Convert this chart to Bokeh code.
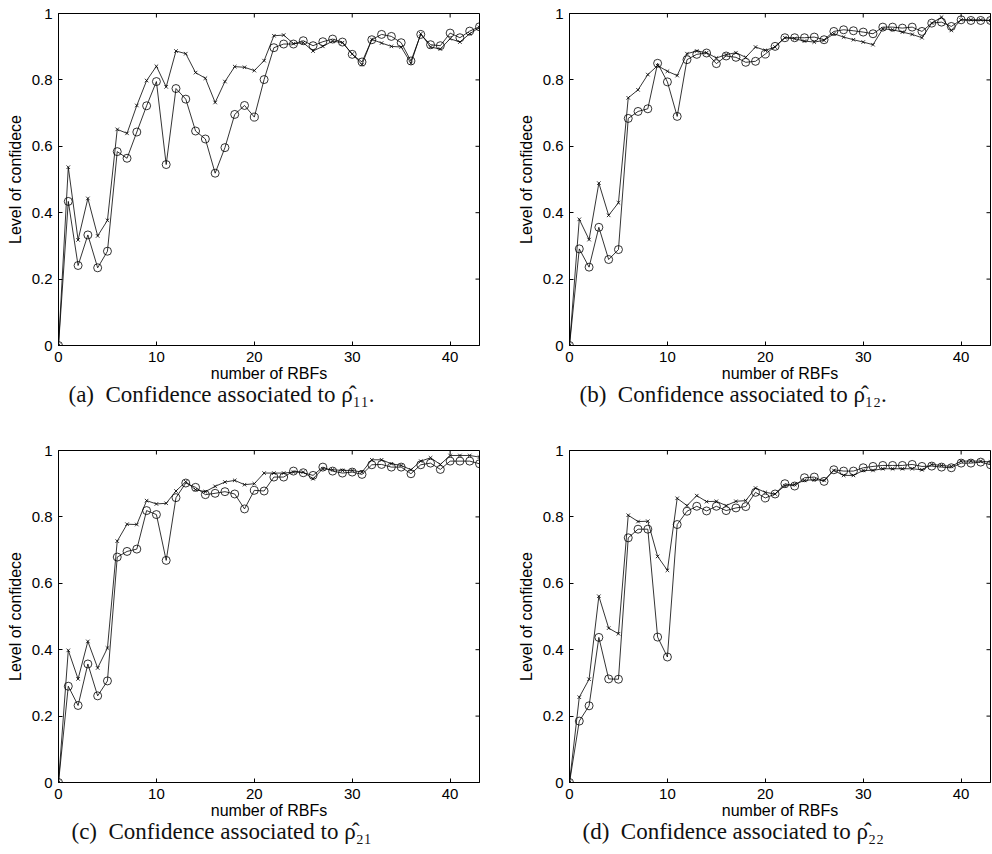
import math
from bokeh.plotting import figure
from bokeh.layouts import gridplot
from bokeh.models import Range1d, FixedTicker, Title
from bokeh.embed import file_html
from bokeh.resources import INLINE

n_rbf = list(range(44))
x_ticks = [0, 10, 20, 30, 40]
y_ticks = [0, 0.2, 0.4, 0.6, 0.8, 1]
x_max = 43
y_max = 1

a_circle = [0, 0.434, 0.241, 0.333, 0.234, 0.284, 0.584, 0.564, 0.643, 0.722, 0.795,
            0.545, 0.774, 0.742, 0.646, 0.622, 0.519, 0.596, 0.696, 0.723, 0.688,
            0.801, 0.897, 0.908, 0.908, 0.918, 0.903, 0.915, 0.923, 0.914, 0.877,
            0.854, 0.921, 0.937, 0.931, 0.912, 0.857, 0.937, 0.906, 0.903, 0.941,
            0.927, 0.947, 0.960]
a_cross = [0, 0.537, 0.318, 0.443, 0.330, 0.377, 0.651, 0.639, 0.723, 0.798, 0.841,
           0.779, 0.887, 0.879, 0.822, 0.805, 0.732, 0.795, 0.840, 0.838, 0.828,
           0.858, 0.933, 0.935, 0.909, 0.912, 0.887, 0.901, 0.917, 0.912, 0.878,
           0.846, 0.922, 0.911, 0.901, 0.899, 0.850, 0.939, 0.899, 0.893, 0.924,
           0.914, 0.939, 0.958]
b_circle = [0, 0.291, 0.236, 0.356, 0.259, 0.289, 0.684, 0.705, 0.713, 0.850, 0.794,
            0.690, 0.861, 0.877, 0.881, 0.849, 0.872, 0.868, 0.853, 0.856, 0.878,
            0.901, 0.927, 0.927, 0.927, 0.929, 0.921, 0.946, 0.951, 0.948, 0.944,
            0.939, 0.959, 0.959, 0.956, 0.959, 0.946, 0.971, 0.974, 0.961, 0.981,
            0.979, 0.979, 0.979]
b_cross = [0, 0.380, 0.319, 0.489, 0.392, 0.430, 0.746, 0.770, 0.816, 0.843, 0.826,
           0.813, 0.879, 0.887, 0.882, 0.866, 0.876, 0.882, 0.868, 0.899, 0.889,
           0.899, 0.927, 0.924, 0.917, 0.914, 0.919, 0.939, 0.929, 0.921, 0.914,
           0.906, 0.954, 0.951, 0.944, 0.937, 0.927, 0.971, 0.989, 0.949, 0.981,
           0.981, 0.981, 0.979]
c_circle = [0, 0.290, 0.232, 0.357, 0.261, 0.306, 0.679, 0.696, 0.703, 0.819, 0.807,
            0.669, 0.858, 0.902, 0.889, 0.867, 0.871, 0.876, 0.869, 0.824, 0.880,
            0.878, 0.920, 0.920, 0.938, 0.933, 0.925, 0.950, 0.938, 0.932, 0.935,
            0.928, 0.957, 0.958, 0.950, 0.950, 0.930, 0.957, 0.962, 0.943, 0.968,
            0.968, 0.968, 0.960]
c_cross = [0, 0.398, 0.312, 0.425, 0.345, 0.405, 0.727, 0.778, 0.777, 0.849, 0.839,
           0.841, 0.878, 0.906, 0.882, 0.876, 0.892, 0.905, 0.910, 0.897, 0.900,
           0.932, 0.932, 0.932, 0.935, 0.935, 0.915, 0.945, 0.942, 0.940, 0.940,
           0.935, 0.972, 0.972, 0.960, 0.955, 0.942, 0.968, 0.978, 0.958, 0.985,
           0.985, 0.985, 0.980]
d_circle = [0, 0.185, 0.231, 0.437, 0.312, 0.311, 0.737, 0.763, 0.763, 0.438, 0.378,
            0.777, 0.817, 0.832, 0.818, 0.832, 0.819, 0.827, 0.831, 0.874, 0.857,
            0.869, 0.900, 0.893, 0.918, 0.920, 0.907, 0.942, 0.938, 0.938, 0.948,
            0.952, 0.955, 0.955, 0.955, 0.958, 0.952, 0.953, 0.950, 0.948, 0.962,
            0.962, 0.965, 0.957]
d_cross = [0, 0.257, 0.311, 0.561, 0.465, 0.448, 0.805, 0.786, 0.787, 0.681, 0.639,
           0.856, 0.834, 0.864, 0.846, 0.847, 0.834, 0.847, 0.849, 0.887, 0.874,
           0.869, 0.894, 0.898, 0.910, 0.912, 0.910, 0.940, 0.925, 0.925, 0.940,
           0.940, 0.945, 0.945, 0.945, 0.945, 0.942, 0.958, 0.955, 0.952, 0.968,
           0.968, 0.968, 0.965]

NBSP = "\u00a0"
captions = [
    "(a)" + NBSP + " Confidence associated to \u03c1\u0302\u2081\u2081.",
    "(b)" + NBSP + " Confidence associated to \u03c1\u0302\u2081\u2082.",
    "(c)" + NBSP + " Confidence associated to \u03c1\u0302\u2082\u2081",
    "(d)" + NBSP + " Confidence associated to \u03c1\u0302\u2082\u2082",
]

SANS = "Liberation Sans"
SERIF = "Liberation Serif"


def make_panel(circ, cross, caption, width, left, right, height, top, bottom, cap_offset):
    p = figure(width=width, height=height, output_backend="svg", toolbar_location=None,
               x_range=Range1d(0, x_max), y_range=Range1d(0, y_max),
               min_border_left=left, min_border_right=right,
               min_border_top=top, min_border_bottom=bottom)
    p.grid.visible = False
    p.outline_line_color = "black"
    p.outline_line_width = 1
    p.background_fill_color = "white"
    p.border_fill_color = "white"

    p.xaxis.ticker = FixedTicker(ticks=x_ticks)
    p.yaxis.ticker = FixedTicker(ticks=y_ticks)
    p.yaxis.major_label_overrides = {0: "0", 1: "1"}
    for ax in p.xaxis + p.yaxis:
        ax.major_tick_in = 4
        ax.major_tick_out = 0
        ax.minor_tick_line_color = None
        ax.axis_line_color = "black"
        ax.major_tick_line_color = "black"
        ax.major_label_text_font = SANS
        ax.major_label_text_font_size = "15px"
        ax.major_label_text_color = "black"
        ax.major_label_standoff = 6
        ax.axis_label_text_font = SANS
        ax.axis_label_text_font_size = "16px"
        ax.axis_label_text_font_style = "normal"
        ax.axis_label_text_color = "black"
    p.xaxis.axis_label = "number of RBFs"
    p.yaxis.axis_label = "Level of confidece"
    p.xaxis.axis_label_standoff = 0
    p.yaxis.axis_label_standoff = 5

    # inward tick marks on the top and right edges of the box (half clipped by the frame)
    p.scatter(x_ticks, [y_max] * len(x_ticks), marker="dash", size=8, angle=math.pi / 2,
              line_color="black", line_width=1)
    p.scatter([x_max] * len(y_ticks), y_ticks, marker="dash", size=8,
              line_color="black", line_width=1)

    p.line(n_rbf, cross, line_color="black", line_width=0.8)
    p.scatter(n_rbf, cross, marker="x", size=5, line_color="black", line_width=0.8)
    p.line(n_rbf, circ, line_color="black", line_width=0.8)
    p.scatter(n_rbf, circ, marker="circle", size=8, fill_color=None,
              line_color="black", line_width=0.8)

    t = Title(text=caption, align="left", text_font=SERIF, text_font_size="23px",
              text_font_style="normal", text_color="#111111", standoff=-9, offset=cap_offset)
    p.add_layout(t, "below")
    return p


pa = make_panel(a_circle, a_cross, captions[0], 510, 58, 31, 420, 13, 75, 10)
pb = make_panel(b_circle, b_cross, captions[1], 482, 59, 2, 420, 13, 75, 10)
pc = make_panel(c_circle, c_cross, captions[2], 510, 58, 31, 434, 30, 72, 13)
pd = make_panel(d_circle, d_cross, captions[3], 482, 59, 2, 434, 30, 72, 13)

grid = gridplot([[pa, pb], [pc, pd]], toolbar_location=None)

open("out.html", "w").write(file_html(grid, INLINE))
